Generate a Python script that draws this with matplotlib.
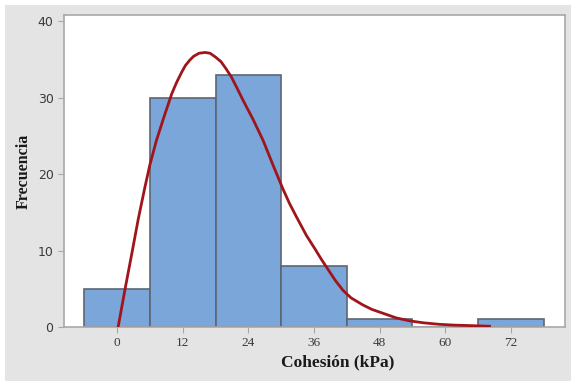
import matplotlib
matplotlib.use("Agg")
import matplotlib.pyplot as plt
from matplotlib.patches import Rectangle

# Histogram data (bin centres in kPa, counts)
bin_centers = [0, 12, 24, 36, 48, 60, 72]
counts = [5, 30, 33, 8, 1, 0, 1]
bin_width = 12

# Fitted curve
curve_x = [0.2, 1.5, 2.7, 3.9, 5.1, 6.0, 7.2, 8.5, 9.3, 10.0, 10.9, 11.8, 12.5, 13.3,
           14.0, 15.0, 16.1, 17.0, 18.0, 19.0, 19.9, 20.9, 21.9, 23.0, 24.9,
           26.7, 28.5, 30.3, 31.5, 32.8, 34.6, 36.2, 37.4, 38.6, 39.9, 41.3,
           42.8, 44.9, 46.6, 48.6, 51.0, 53.5, 56.0, 58.9, 61.5, 63.8, 66.0, 68.1]
curve_y = [0.0, 5.1, 9.6, 14.2, 18.3, 21.2, 24.4, 27.3, 29.0, 30.5, 32.0, 33.3, 34.2, 34.9,
           35.4, 35.8, 35.9, 35.8, 35.3, 34.7, 33.8, 32.7, 31.3, 29.7, 27.1,
           24.4, 21.2, 18.1, 16.2, 14.4, 12.0, 10.2, 8.8, 7.5, 6.1, 4.8,
           3.8, 2.9, 2.3, 1.8, 1.2, 0.8, 0.55, 0.35, 0.25, 0.2, 0.15, 0.1]

xticks = [0, 12, 24, 36, 48, 60, 72]
yticks = [0, 10, 20, 30, 40]

fig = plt.figure(figsize=(5.71, 3.81), dpi=100)
fig.patch.set_facecolor("white")
# gray panel behind the plot
fig.patches.append(Rectangle((5 / 571, 0), 1, 376 / 381, transform=fig.transFigure,
                             facecolor="#e4e4e4", edgecolor="none", zorder=-10))

ax = fig.add_axes([64 / 571, 54 / 381, 501 / 571, 312 / 381])
ax.set_facecolor("white")

ax.bar(bin_centers, counts, width=bin_width, color="#7BA6D9",
       edgecolor="#5C6673", linewidth=1.2, zorder=2)
ax.plot(curve_x, curve_y, color="#A0151C", linewidth=2, zorder=3,
        solid_joinstyle="round")

ax.set_xlim(-9.7, 81.9)
ax.set_ylim(0, 40.8)
ax.set_xticks(xticks)
ax.set_yticks(yticks)

for s in ax.spines.values():
    s.set_color("#a8a8a8")
    s.set_linewidth(1.2)

ax.tick_params(axis="both", direction="out", length=4, color="#a8a8a8",
               labelcolor="#3a3a3a")
for lab in ax.get_xticklabels():
    lab.set_fontfamily("Liberation Serif")
    lab.set_fontsize(9.5)
for lab in ax.get_yticklabels():
    lab.set_fontfamily("DejaVu Sans")
    lab.set_fontsize(9)

ax.set_xlabel("Cohesión (kPa)", fontfamily="Liberation Serif", fontweight="bold",
              fontsize=12.5, color="#1a1a1a")
ax.set_ylabel("Frecuencia", fontfamily="Liberation Serif", fontweight="bold",
              fontsize=11.5, color="#1a1a1a")
ax.xaxis.set_label_coords(0.546, -0.087)
ax.yaxis.set_label_coords(-0.064, 0.5)

fig.savefig("out.png", dpi=100, facecolor=fig.get_facecolor())
